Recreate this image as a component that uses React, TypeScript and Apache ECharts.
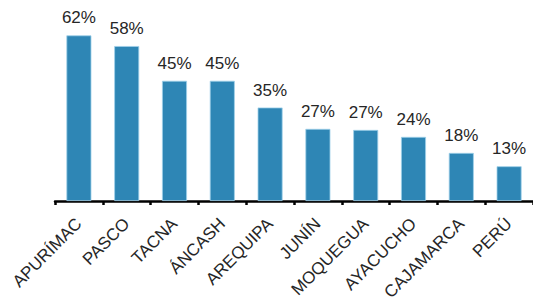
import React, { useEffect, useRef } from "react";
import * as echarts from "echarts";

const categories = ["APURÍMAC", "PASCO", "TACNA", "ÁNCASH", "AREQUIPA", "JUNÍN", "MOQUEGUA", "AYACUCHO", "CAJAMARCA", "PERÚ"];
const values = [62, 58, 45, 45, 35, 27, 26.6, 24, 18, 13];

export default function App() {
  const ref = useRef<HTMLDivElement>(null);
  useEffect(() => {
    const chart = echarts.init(ref.current!, null, { renderer: "svg" });
    chart.setOption({
      animation: false,
      grid: { left: 55, right: -2, top: 14, bottom: 103 },
      xAxis: {
        type: "category",
        data: categories,
        axisLine: { lineStyle: { color: "#000", width: 2.5 } },
        axisTick: { show: true, length: 4, lineStyle: { color: "#000", width: 2.5 } },
        axisLabel: {
          rotate: 45,
          interval: 0,
          margin: 20,
          fontFamily: "Liberation Sans, Arial, sans-serif",
          fontSize: 17,
          color: "#262626",
        },
      },
      yAxis: { type: "value", min: 0, max: 70, show: false, splitLine: { show: false } },
      series: [
        {
          type: "bar",
          data: values,
          barWidth: 25,
          itemStyle: { color: "#2E86B5", borderColor: "#9fd0ea", borderWidth: 0.8 },
          label: {
            show: true,
            position: "top",
            distance: 9,
            formatter: (p: any) => Math.round(p.value) + "%",
            fontFamily: "Liberation Sans, Arial, sans-serif",
            fontSize: 17,
            color: "#262626",
          },
        },
      ],
    });
    return () => chart.dispose();
  }, []);
  return <div ref={ref} style={{ width: 533, height: 304, position: "absolute", left: 0, top: 0, background: "#fff" }} />;
}
